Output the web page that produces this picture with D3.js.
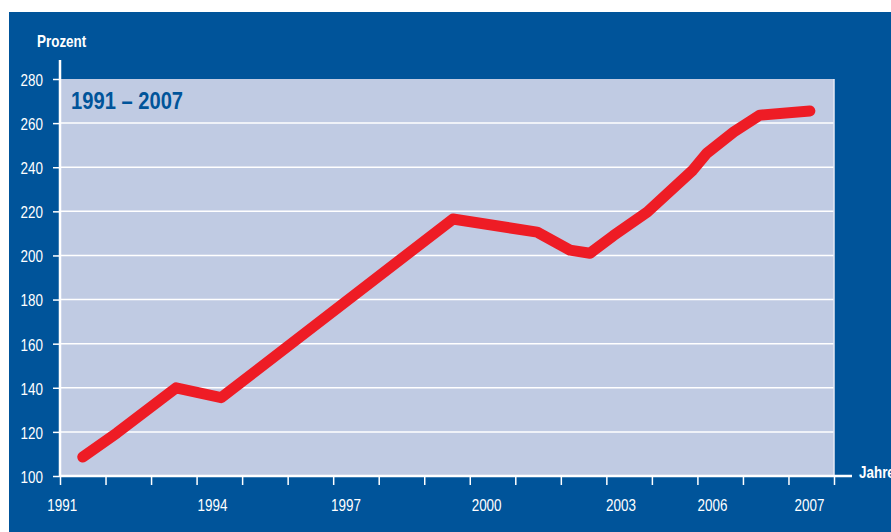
<!DOCTYPE html>
<html>
<head>
<meta charset="utf-8">
<script src="https://cdn.jsdelivr.net/npm/d3@7"></script>
<style>
body{margin:0;background:#fff;}
#chart{position:absolute;left:9px;top:12px;width:882px;height:520px;background:#00549a;overflow:hidden;}
text{font-family:'Liberation Sans',Arial,sans-serif;}
</style>
</head>
<body>
<div id="chart"></div>
<script>
// data
const pointYears = [1991, 1991.75, 1993.05, 1994.04, 1999.13, 2000.98, 2001.7, 2002.14, 2002.65, 2003.4, 2004.4, 2004.71, 2005.3, 2005.87, 2006.97];
const pointValues = [108.6, 119.5, 140, 135.5, 216.5, 210.6, 202.4, 201, 208.9, 219.7, 238.7, 246.4, 256, 263.6, 265.5];
const yTicks = [100, 120, 140, 160, 180, 200, 220, 240, 260, 280];
const xTickYears = [1990.5, 1991.5, 1992.5, 1993.5, 1994.5, 1995.5, 1996.5, 1997.5, 1998.5, 1999.5, 2000.5, 2001.5, 2002.5, 2003.5, 2004.5, 2005.5, 2006.5, 2007.5];
const xLabels = ['1991', '1994', '1997', '2000', '2003', '2006', '2007'];
const xLabelAt = [1990.55, 1993.85, 1996.78, 1999.87, 2002.82, 2004.83, 2006.96];

const margin = {top:67, right:57, bottom:56, left:51};
const width = 882 - margin.left - margin.right;
const height = 520 - margin.top - margin.bottom;
// condensed look: squeeze text horizontally
const sq = 0.84;

const x = d3.scaleLinear()
.domain([1990.5, 2007.5])
.range([0, width]);
const y = d3.scaleLinear()
.domain([100, 280])
.range([height, 0]);

const svg = d3.select('#chart')
.append('svg')
.attr('width', 882)
.attr('height', 520)
.append('g')
.attr('transform', `translate(${margin.left},${margin.top})`);

function label(tx, ty, str, size, bold, color, anchor){
  return svg.append('text')
  .attr('transform', `translate(${tx},${ty}) scale(${sq},1)`)
  .attr('text-anchor', anchor || 'start')
  .attr('fill', color)
  .style('font-size', size + 'px')
  .style('font-weight', bold ? 'bold' : 'normal')
  .text(str);
}

// plot background
svg.append('rect')
.attr('x', 0)
.attr('y', y(280))
.attr('width', width)
.attr('height', y(100) - y(280))
.attr('fill', '#c0cbe3');

// horizontal gridlines
svg.selectAll('.yGrid')
.data(yTicks.slice(1, -1))
.join('line')
.attr('class', 'yGrid')
.attr('x1', 0)
.attr('x2', width)
.attr('y1', d => y(d))
.attr('y2', d => y(d))
.attr('stroke', '#fff')
.attr('stroke-width', 1.5);

// right border of plot
svg.append('line')
.attr('x1', width)
.attr('x2', width)
.attr('y1', y(280))
.attr('y2', height)
.attr('stroke', '#e4e9f4')
.attr('stroke-width', 1.5);

// y axis
svg.append('g')
.call(d3.axisLeft(y)
.tickValues(yTicks)
.tickSize(7)
.tickPadding(10))
.call(g => g.select('.domain').remove())
.call(g => g.selectAll('.tick line').attr('stroke', '#fff').attr('stroke-width', 1.5))
.selectAll('.tick text')
.attr('fill', '#fff')
.attr('x', -17 / sq)
.attr('dy', '0.4em')
.attr('transform', `scale(${sq},1)`)
.style('font-size', '16px')
.style('font-family', "'Liberation Sans',Arial,sans-serif");

svg.append('line')
.attr('x1', 0)
.attr('x2', 0)
.attr('y1', y(280) - 19)
.attr('y2', height)
.attr('stroke', '#fff')
.attr('stroke-width', 2.5);

// x axis
svg.append('g')
.attr('transform', `translate(0,${height})`)
.call(d3.axisBottom(x)
.tickValues(xTickYears)
.tickSize(9)
.tickFormat(''))
.call(g => g.select('.domain').remove())
.selectAll('.tick line')
.attr('stroke', '#fff')
.attr('stroke-width', 1.5);

svg.append('line')
.attr('x1', 0)
.attr('x2', width + 18)
.attr('y1', height)
.attr('y2', height)
.attr('stroke', '#fff')
.attr('stroke-width', 2.5);

xLabels.forEach((d, i) => {
  label(x(xLabelAt[i]), height + 35, d, 16, false, '#fff', 'middle');
});

// axis titles
label(-23, y(280) - 32, 'Prozent', 16, true, '#fff');
label(width + 25, height + 2, 'Jahre', 16, true, '#fff');

// chart title
label(11, y(280) + 30, '1991 – 2007', 24, true, '#00549a');

// line
const line = d3.line()
.x((d, i) => x(pointYears[i]))
.y(d => y(d));

svg.append('path')
.datum(pointValues)
.attr('fill', 'none')
.attr('stroke', '#ee1c25')
.attr('stroke-width', 11)
.attr('stroke-linecap', 'round')
.attr('stroke-linejoin', 'round')
.attr('d', line);
</script>
</body>
</html>
